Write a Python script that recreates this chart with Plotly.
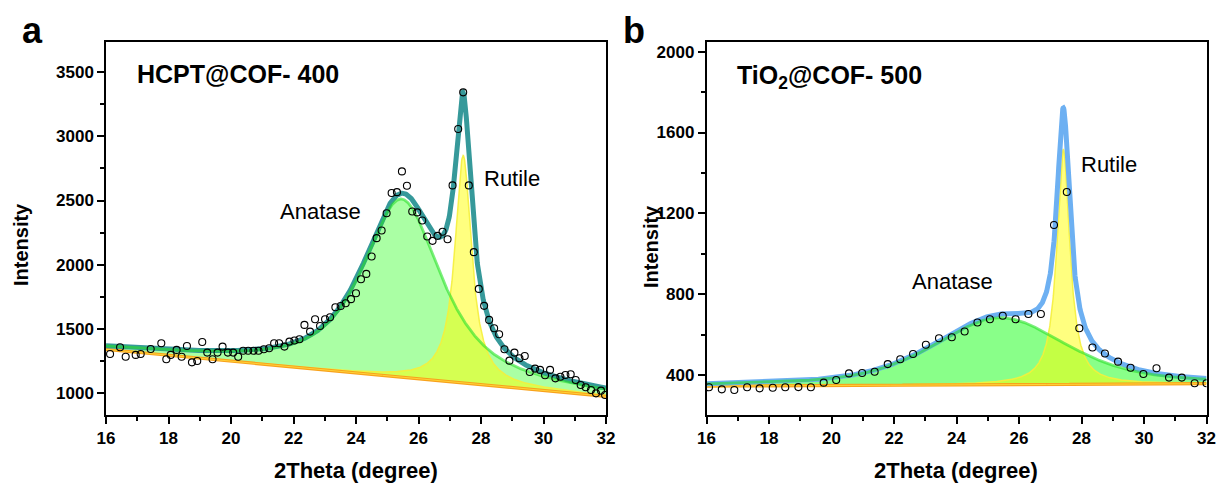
import numpy as np
import plotly.graph_objects as go

# ---------------- measured XRD points ----------------
a_two_theta = [16.13, 16.45, 16.63, 16.95, 17.11, 17.43, 17.77, 17.93, 18.07, 18.26, 18.42, 18.59,
               18.75, 18.92, 19.08, 19.24, 19.41, 19.57, 19.73, 19.90, 20.07, 20.23, 20.39, 20.55,
               20.72, 20.88, 21.05, 21.22, 21.38, 21.54, 21.71, 21.87, 22.03, 22.19, 22.35, 22.53,
               22.69, 22.85, 23.01, 23.17, 23.34, 23.51, 23.67, 23.84, 24.00, 24.16, 24.33, 24.50,
               24.66, 24.82, 24.98, 25.14, 25.31, 25.47, 25.63, 25.80, 25.96, 26.12, 26.28, 26.45,
               26.61, 26.77, 26.93, 27.09, 27.27, 27.43, 27.61, 27.77, 27.93, 28.10, 28.26, 28.42,
               28.58, 28.75, 28.91, 29.07, 29.23, 29.40, 29.56, 29.73, 29.89, 30.05, 30.21, 30.38,
               30.54, 30.70, 30.87, 31.03, 31.19, 31.35, 31.52, 31.68, 31.84, 31.97]
a_intensity = [1302, 1355, 1281, 1295, 1302, 1341, 1386, 1261, 1295, 1334, 1281, 1365,
               1237, 1248, 1396, 1313, 1261, 1313, 1360, 1313, 1313, 1281, 1328, 1328,
               1328, 1328, 1339, 1347, 1386, 1386, 1360, 1399, 1407, 1417, 1529, 1477,
               1573, 1521, 1573, 1589, 1667, 1677, 1698, 1730, 1776, 1886, 1927, 2063,
               2206, 2266, 2401, 2558, 2565, 2727, 2615, 2414, 2407, 2344, 2219, 2185,
               2224, 2256, 2198, 2618, 3058, 3344, 2618, 2097, 1810, 1678, 1568, 1503,
               1456, 1339, 1250, 1313, 1269, 1287, 1162, 1188, 1178, 1136, 1178, 1112,
               1125, 1138, 1144, 1099, 1060, 1042, 1021, 995, 1016, 982]

b_two_theta = [16.08, 16.49, 16.89, 17.30, 17.70, 18.12, 18.52, 18.94, 19.34, 19.75, 20.15, 20.56,
               20.98, 21.38, 21.80, 22.20, 22.61, 23.02, 23.44, 23.85, 24.26, 24.67, 25.07, 25.48,
               25.89, 26.30, 26.70, 27.12, 27.53, 27.93, 28.35, 28.75, 29.17, 29.57, 29.98, 30.40,
               30.80, 31.21, 31.62, 32.00]
b_intensity = [339, 329, 326, 339, 334, 337, 339, 340, 339, 362, 375, 408,
               410, 416, 454, 478, 504, 550, 582, 587, 615, 660, 676, 693,
               676, 702, 702, 1142, 1306, 631, 536, 506, 466, 436, 405, 433,
               387, 387, 359, 359]

# ---------------- peak-fit parameters ----------------
# linear background: intensity at 16 deg and at 32 deg
a_background = [1338, 972]
b_background = [345, 357]
# pseudo-Voigt peaks: [centre (deg), height, FWHM (deg), Lorentzian fraction]
a_anatase = [25.46, 1390, 3.0, 0.8]
a_rutile = [27.43, 1775, 0.64, 1.0]
b_anatase = [25.40, 332, 5.0, 0.5]
b_rutile = [27.42, 1162, 0.50, 1.0]

x_range = [16, 32]
x_ticks = [16, 18, 20, 22, 24, 26, 28, 30, 32]
a_y_ticks = [1000, 1500, 2000, 2500, 3000, 3500]
b_y_ticks = [400, 800, 1200, 1600, 2000]
a_y_range = [826, 3737]
b_y_range = [202, 2048]

FONT = "Liberation Sans, Arial, Helvetica, sans-serif"
W, H = 1220, 485


def pseudo_voigt(x, centre, height, fwhm, eta):
    u = (x - centre) / (fwhm / 2.0)
    return height * (eta / (1.0 + u ** 2) + (1.0 - eta) * np.exp(-np.log(2.0) * u ** 2))


def background(x, ends):
    return ends[0] + (ends[1] - ends[0]) * (x - x_range[0]) / (x_range[1] - x_range[0])


grid = np.linspace(x_range[0], x_range[1], 1601)

fig = go.Figure()


def add_panel(xa, ya, tt, inten, bg_ends, anatase, rutile, total_color, anatase_fill):
    bg = background(grid, bg_ends)
    ana = pseudo_voigt(grid, *anatase)
    rut = pseudo_voigt(grid, *rutile)
    total = bg + ana + rut
    common = dict(xaxis=xa, yaxis=ya, showlegend=False, hoverinfo="skip")

    # anatase component area
    fig.add_trace(go.Scatter(x=grid, y=bg, mode="lines", line=dict(width=0), **common))
    fig.add_trace(go.Scatter(x=grid, y=bg + ana, mode="lines", line=dict(width=0),
                             fill="tonexty", fillcolor=anatase_fill, **common))
    # rutile component area
    fig.add_trace(go.Scatter(x=grid, y=bg, mode="lines", line=dict(width=0), **common))
    fig.add_trace(go.Scatter(x=grid, y=bg + rut, mode="lines",
                             line=dict(width=1.5, color="rgba(245,240,60,0.9)"),
                             fill="tonexty", fillcolor="rgba(255,255,0,0.5)", **common))
    # background line
    fig.add_trace(go.Scatter(x=grid, y=bg, mode="lines",
                             line=dict(width=3.2, color="#f8a21c"), **common))
    fig.add_trace(go.Scatter(x=grid, y=bg, mode="lines",
                             line=dict(width=1.0, color="rgba(255,215,60,0.9)"), **common))
    # cumulative fit
    fig.add_trace(go.Scatter(x=grid, y=total, mode="lines",
                             line=dict(width=5, color=total_color), **common))
    # anatase component outline
    fig.add_trace(go.Scatter(x=grid, y=bg + ana, mode="lines",
                             line=dict(width=2.8, color="rgba(40,225,40,0.6)"), **common))
    # measured points
    fig.add_trace(go.Scatter(x=tt, y=inten, mode="markers",
                             marker=dict(symbol="circle-open", size=7, color="black",
                                         line=dict(width=1.1, color="black")),
                             **common))


add_panel("x", "y", a_two_theta, a_intensity, a_background, a_anatase, a_rutile,
          "#36999a", "rgba(100,255,90,0.55)")
add_panel("x2", "y2", b_two_theta, b_intensity, b_background, b_anatase, b_rutile,
          "#6db0f2", "rgba(20,255,20,0.5)")

tick_font = dict(family=FONT, size=17, color="black", weight="bold")


def xaxis_style(domain, anchor):
    return dict(domain=domain, anchor=anchor, range=x_range, tickvals=x_ticks,
                ticks="outside", ticklen=7, tickwidth=1.5, tickcolor="black",
                minor=dict(dtick=1, ticks="outside", ticklen=4, tickwidth=1.5, tickcolor="black"),
                showline=True, linecolor="black", linewidth=1.5, mirror=True,
                showgrid=False, zeroline=False, tickfont=tick_font, automargin=False)


def yaxis_style(domain, anchor, rng, ticks, minor_step):
    return dict(domain=domain, anchor=anchor, range=rng, tickvals=ticks,
                ticks="outside", ticklen=7, tickwidth=1.5, tickcolor="black",
                minor=dict(dtick=minor_step, tick0=0, ticks="outside", ticklen=4,
                           tickwidth=1.5, tickcolor="black"),
                showline=True, linecolor="black", linewidth=1.5, mirror=True,
                showgrid=False, zeroline=False, tickfont=tick_font, automargin=False)


y_dom = [70 / H, 443 / H]
fig.update_layout(
    width=W, height=H,
    margin=dict(l=0, r=0, t=0, b=0, autoexpand=False),
    paper_bgcolor="white", plot_bgcolor="white",
    xaxis=xaxis_style([106 / W, 606 / W], "y"),
    yaxis=yaxis_style(y_dom, "x", a_y_range, a_y_ticks, 250),
    xaxis2=xaxis_style([706.5 / W, 1206.5 / W], "y2"),
    yaxis2=yaxis_style(y_dom, "x2", b_y_range, b_y_ticks, 200),
)


def px_note(text, x, y, size, bold=True, xanchor="center", angle=0):
    fig.add_annotation(text=text, x=x / W, y=1 - y / H, xref="paper", yref="paper",
                       xanchor=xanchor, yanchor="middle", showarrow=False, textangle=angle,
                       font=dict(family=FONT, size=size, color="black",
                                 weight="bold" if bold else "normal"))


px_note("a", 32, 30, 36)
px_note("b", 634, 30, 36)
px_note("HCPT@COF- 400", 135, 74, 25, xanchor="left")
px_note("TiO<sub>2</sub>@COF- 500", 735, 77, 25, xanchor="left")
px_note("Anatase", 320, 211, 22, bold=False)
px_note("Rutile", 512, 178, 22, bold=False)
px_note("Anatase", 953, 281, 22, bold=False)
px_note("Rutile", 1109, 164, 22, bold=False)
px_note("2Theta (degree)", 356, 470, 22)
px_note("2Theta (degree)", 956, 470, 22)
px_note("Intensity", 21, 245, 20, angle=-90)
px_note("Intensity", 651, 247, 20, angle=-90)

fig.write_html("out.html")
